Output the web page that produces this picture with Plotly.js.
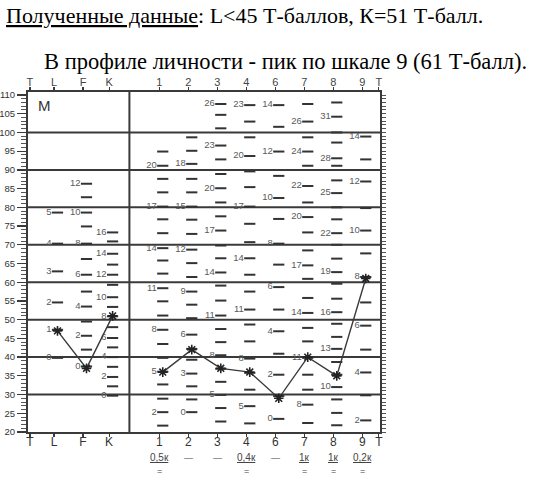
<!DOCTYPE html>
<html><head><meta charset="utf-8">
<script src="https://cdn.plot.ly/plotly-3.0.1.min.js"></script>
<style>html,body{margin:0;padding:0;background:#fff;} #chart{width:538px;height:491px;}</style>
</head><body><div id="chart"></div>
<script>
// ---------------- data ----------------
const validityScales = ['L', 'F', 'K'];
const validityT = [47, 37, 51];
const clinicalScales = ['1', '2', '3', '4', '6', '7', '8', '9'];
const clinicalT = [36, 42, 37, 36, 29, 40, 35, 61];
const clinicalWeights = ['0,5к', '', '', '0,4к', '', '1к', '1к', '0,2к'];

// raw-score marks printed on the form: first raw score, T of each raw score, labelled raws
const rawStartL = 0;
const markTL = [39.8, 47.3, 54.6, 62.9, 70.3, 78.6];
const labelRawL = [0, 1, 2, 3, 4, 5];
const rawStartF = 0;
const markTF = [37.5, 42, 45.7, 49.5, 53.5, 57.5, 62, 66.2, 70.3, 74.9, 78.6, 82.7, 86.3];
const labelRawF = [0, 2, 4, 6, 8, 10, 12];
const rawStartK = 0;
const markTK = [29.7, 32.2, 34.7, 37.4, 40, 42.6, 45.1, 48, 50.9, 53.4, 56, 59.3, 62, 64.7, 67.6, 70.9, 73.3];
const labelRawK = [0, 2, 4, 6, 8, 10, 12, 14, 16];
const rawStart1 = 1;
const markT1 = [21.7, 25.3, 28.9, 32.7, 36.1, 39.8, 43.5, 47.3, 51.1, 54.9, 58.4, 62.3, 65.8, 69.1, 73.1, 76.8, 80.2, 84, 87.6, 91.1, 94.9];
const labelRaw1 = [2, 5, 8, 11, 14, 17, 20];
const rawStart2 = 0;
const markT2 = [25.3, 28.7, 32.2, 35.6, 39.3, 42.2, 46, 50.4, 54, 57.5, 61.4, 65.1, 68.7, 72.9, 76.7, 80.2, 84, 87.6, 91.6, 95.1, 98.7];
const labelRaw2 = [0, 3, 6, 9, 12, 15, 18];
const rawStart3 = 3;
const markT3 = [22.8, 26.4, 29.9, 33.4, 36.9, 40.5, 44, 47.5, 51.1, 55.1, 59.1, 62.6, 66.4, 69.8, 73.8, 77.6, 81.3, 85.1, 88.9, 92.8, 96.5, 101.1, 104.7, 107.6];
const labelRaw3 = [5, 8, 11, 14, 17, 20, 23, 26];
const rawStart4 = 4;
const markT4 = [22.3, 26.9, 31.3, 35.8, 39.6, 44.2, 48.7, 52.7, 57.5, 62, 66.4, 70.7, 75.6, 80.2, 85.4, 89.6, 93.7, 98.7, 102.9, 107.3];
const labelRaw4 = [5, 8, 11, 14, 17, 20, 23];
const rawStart6 = 0;
const markT6 = [23.5, 29.6, 35.3, 40.9, 46.9, 52.7, 58.7, 64.7, 70.3, 76.9, 82.5, 88.4, 94.9, 101.5, 107.3];
const labelRaw6 = [0, 2, 4, 6, 8, 10, 12, 14];
const rawStart7 = 7;
const markT7 = [22.4, 27.3, 31.3, 35.3, 39.8, 44.2, 47.8, 51.8, 55.8, 60.9, 64.5, 68.5, 73.3, 77.4, 81.3, 85.7, 91.1, 94.9, 98.7, 102.9, 107.6];
const labelRaw7 = [8, 11, 14, 17, 20, 22, 24, 26];
const rawStart8 = 7;
const markT8 = [21.8, 25.1, 28.7, 32, 35.3, 38.7, 42.2, 45.4, 48.9, 52, 55.6, 59.6, 62.7, 66.3, 70, 73.1, 76.8, 80, 83.8, 87.2, 91.1, 93.1, 97.3, 100, 104.2, 108];
const labelRaw8 = [10, 13, 16, 19, 22, 25, 28, 31];
const rawStart9 = 2;
const markT9 = [23.1, 29.8, 35.9, 42, 48.4, 54.6, 61.4, 67.7, 73.8, 79.8, 86.9, 92.8, 98.9];
const labelRaw9 = [2, 4, 6, 8, 10, 12, 14];

const gridT = [30, 40, 50, 60, 70, 80, 90, 100];

// ---------------- layout helpers ----------------
const W = 538, H = 491;
const ML = 28, MR = 158, MT = 92, MB = 59;
const PW = W - ML - MR, PH = H - MT - MB;
const XR = [0.103, 12.241];
const YR = [20, 110.8];
const DASH_OFF = 0.12;
const posValidity = validityScales.map((s, i) => [1, 2, 2.9][i]);
const posClinical = clinicalScales.map((s, i) => 4.63 + i);
const px2x = px => (px - ML) / PW;
const py2y = py => (H - MB - py) / PH;

const sans = 'Liberation Sans';
const serif = 'Liberation Serif';
const ink = '#3a3a3a';

const scaleMarks = [
  {pos: posValidity[0], start: rawStartL, t: markTL, lab: labelRawL},
  {pos: posValidity[1], start: rawStartF, t: markTF, lab: labelRawF},
  {pos: posValidity[2], start: rawStartK, t: markTK, lab: labelRawK},
  {pos: posClinical[0], start: rawStart1, t: markT1, lab: labelRaw1},
  {pos: posClinical[1], start: rawStart2, t: markT2, lab: labelRaw2},
  {pos: posClinical[2], start: rawStart3, t: markT3, lab: labelRaw3},
  {pos: posClinical[3], start: rawStart4, t: markT4, lab: labelRaw4},
  {pos: posClinical[4], start: rawStart6, t: markT6, lab: labelRaw6},
  {pos: posClinical[5], start: rawStart7, t: markT7, lab: labelRaw7},
  {pos: posClinical[6], start: rawStart8, t: markT8, lab: labelRaw8},
  {pos: posClinical[7], start: rawStart9, t: markT9, lab: labelRaw9}
];

const traces = [];
scaleMarks.forEach(s => {
  traces.push({
    type: 'scatter', mode: 'markers+text',
    x: s.t.map(() => s.pos + DASH_OFF), y: s.t,
    text: s.t.map((v, i) => s.lab.includes(s.start + i) ? String(s.start + i) : ''),
    textposition: 'middle left',
    textfont: {family: sans, size: 9.5, color: '#5a5a5a'},
    marker: {symbol: 'line-ew-open', size: 8, color: '#333', line: {width: 2, color: '#333'}},
    cliponaxis: false, hoverinfo: 'skip', showlegend: false
  });
});

const profileStyle = {
  type: 'scatter', mode: 'lines+markers',
  line: {color: ink, width: 1.4},
  marker: {symbol: 'asterisk-open', size: 8, color: '#222', line: {width: 1.6, color: '#222'}},
  cliponaxis: false, showlegend: false
};
traces.push(Object.assign({}, profileStyle, {
  x: posValidity.map(p => p + DASH_OFF), y: validityT, text: validityScales, name: 'L F K'
}));
traces.push(Object.assign({}, profileStyle, {
  x: posClinical.map(p => p + DASH_OFF), y: clinicalT, text: clinicalScales, name: 'clinical'
}));

const tickPos = [0.17].concat(posValidity, posClinical, [12.2]);
const tickTxt = ['T'].concat(validityScales, clinicalScales, ['T']);

const shapes = gridT.map(v => ({
  type: 'line', xref: 'paper', x0: 0, x1: 1, yref: 'y', y0: v, y1: v,
  line: {color: ink, width: 2}, layer: 'below'
}));
shapes.push({type: 'line', xref: 'x', x0: 3.6, x1: 3.6, yref: 'y', y0: YR[0], y1: YR[1],
  line: {color: ink, width: 2}, layer: 'below'});

const annotations = [
  {xref: 'paper', yref: 'paper', x: px2x(4), y: py2y(16), xanchor: 'left', yanchor: 'middle', showarrow: false,
   text: '<u>Полученные данные</u>: L&lt;45 Т-баллов, К=51 Т-балл.',
   font: {family: serif, size: 22, color: '#000'}},
  {xref: 'paper', yref: 'paper', x: px2x(42), y: py2y(61), xanchor: 'left', yanchor: 'middle', showarrow: false,
   text: 'В профиле личности - пик по шкале 9 (61 Т-балл).',
   font: {family: serif, size: 22.5, color: '#000'}},
  {xref: 'paper', yref: 'paper', x: px2x(44), y: py2y(106), xanchor: 'center', yanchor: 'middle', showarrow: false,
   text: 'M', font: {family: sans, size: 15, color: '#333'}}
];
clinicalWeights.forEach((w, i) => {
  const x = posClinical[i];
  if (w) {
    annotations.push({xref: 'x', yref: 'paper', x: x, y: py2y(457), xanchor: 'center', yanchor: 'middle',
      showarrow: false, text: '<u>' + w + '</u>', font: {family: sans, size: 10, color: '#444'}});
    annotations.push({xref: 'x', yref: 'paper', x: x, y: py2y(471), xanchor: 'center', yanchor: 'middle',
      showarrow: false, text: '=', font: {family: sans, size: 9, color: '#444'}});
  } else {
    annotations.push({xref: 'x', yref: 'paper', x: x, y: py2y(458), xanchor: 'center', yanchor: 'middle',
      showarrow: false, text: '—', font: {family: sans, size: 9, color: '#444'}});
  }
});

const layout = {
  width: W, height: H,
  margin: {l: ML, r: MR, t: MT, b: MB, pad: 0},
  paper_bgcolor: '#fff', plot_bgcolor: '#fff',
  showlegend: false,
  xaxis: {range: XR, tickvals: tickPos, ticktext: tickTxt, ticks: 'outside', ticklen: 3, tickwidth: 1.2,
    tickcolor: ink, showline: true, linecolor: ink, linewidth: 2, showgrid: false, zeroline: false,
    ticklabelstandoff: -5, tickfont: {family: sans, size: 12, color: '#333'}},
  xaxis2: {range: XR, overlaying: 'x', side: 'top', anchor: 'y', tickvals: tickPos, ticktext: tickTxt,
    ticks: 'outside', ticklen: 3, tickwidth: 1.2, tickcolor: ink, showline: true, linecolor: ink, linewidth: 2,
    showgrid: false, zeroline: false, ticklabelstandoff: -3, tickfont: {family: sans, size: 11, color: '#444'}},
  yaxis: {range: YR, tickvals: [20,25,30,35,40,45,50,55,60,65,70,75,80,85,90,95,100,105,110], ticks: 'outside',
    ticklen: 9, tickwidth: 1.3, tickcolor: ink, showline: true, linecolor: ink, linewidth: 2,
    showgrid: false, zeroline: false, tickfont: {family: sans, size: 9.5, color: '#333'},
    minor: {dtick: 1, tick0: 20, ticks: 'outside', ticklen: 5, tickwidth: 1, tickcolor: '#555'}},
  yaxis2: {range: YR, overlaying: 'y', side: 'right', anchor: 'x', dtick: 1, tick0: 20, ticks: 'outside',
    ticklen: 4, tickwidth: 1, tickcolor: '#555', showticklabels: false, showline: true, linecolor: ink,
    linewidth: 2, showgrid: false, zeroline: false},
  shapes: shapes,
  annotations: annotations
};

traces.push({type: 'scatter', x: [null], y: [null], xaxis: 'x2', yaxis: 'y2', hoverinfo: 'skip', showlegend: false});

Plotly.newPlot('chart', traces, layout, {displayModeBar: false, staticPlot: true});
</script></body></html>
